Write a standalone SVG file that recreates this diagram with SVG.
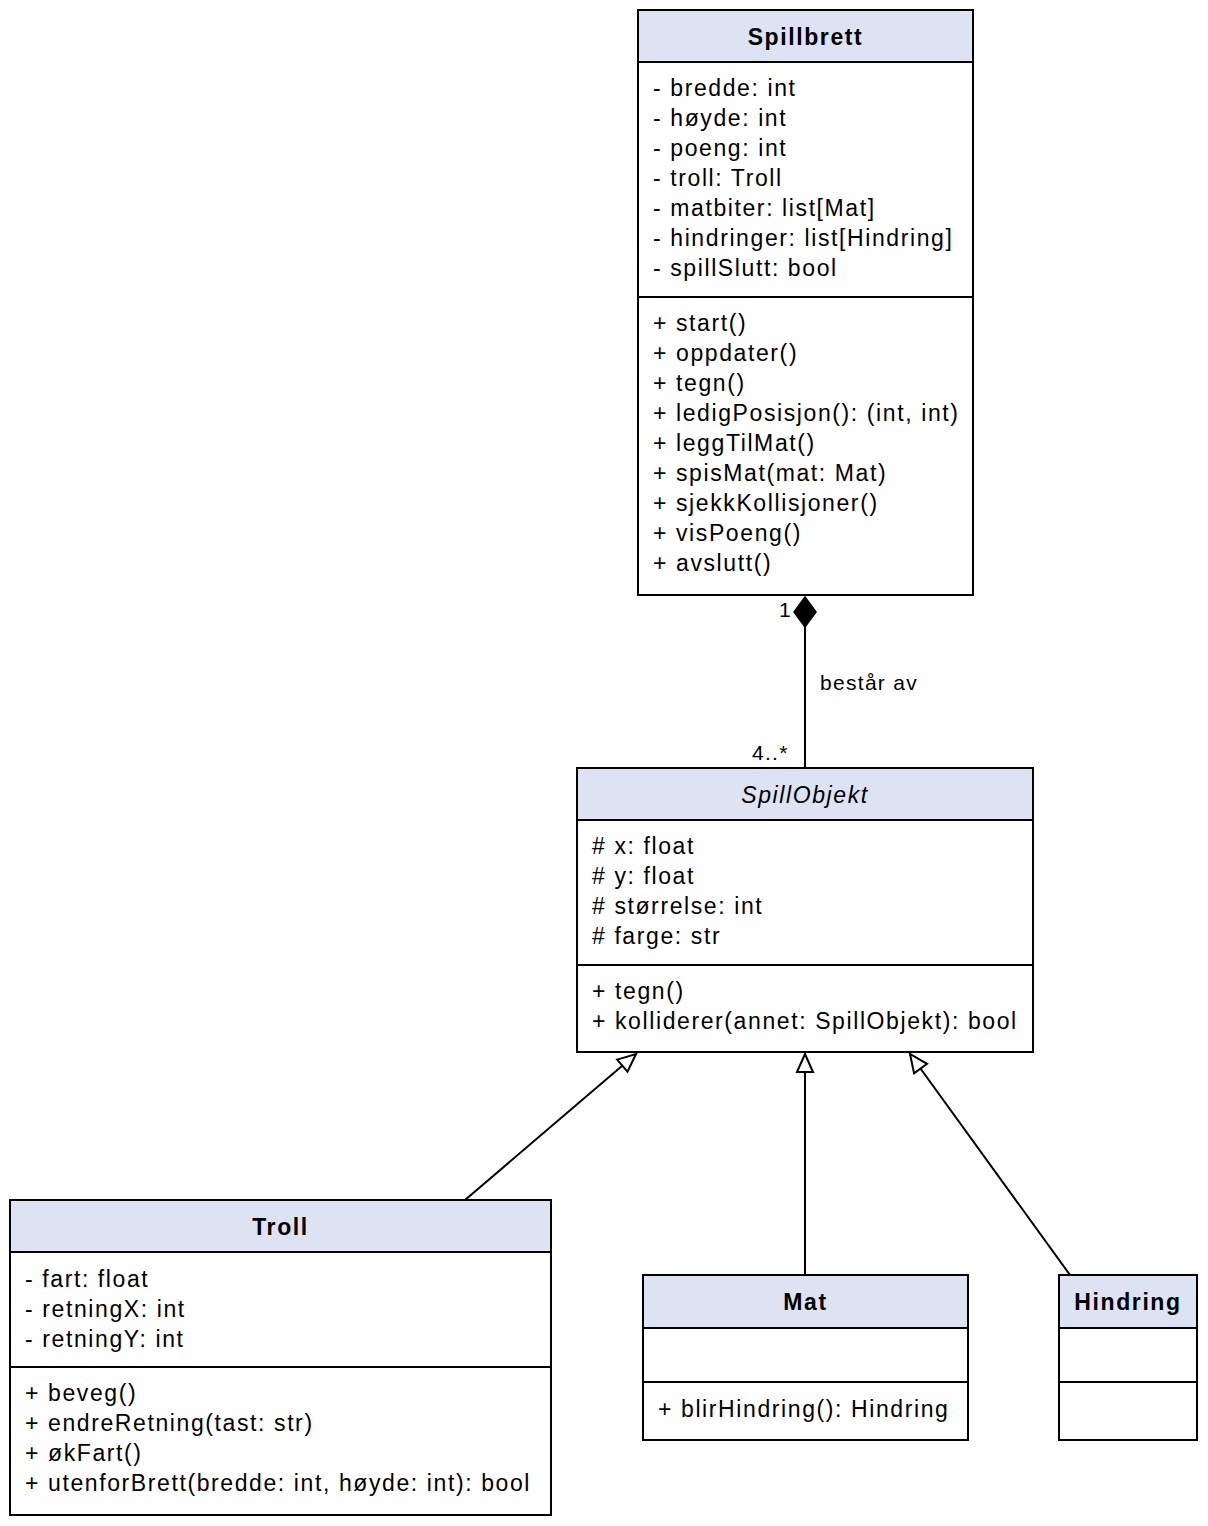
<svg xmlns="http://www.w3.org/2000/svg" width="1208" height="1526" viewBox="0 0 1208 1526">
<style>
text{font-family:"Liberation Sans",Arial,sans-serif;font-size:23px;letter-spacing:1.6px;fill:#000}
.t{font-weight:bold;text-anchor:middle}
.i{font-style:italic;text-anchor:middle;font-weight:normal}
.box{fill:#fff;stroke:#000;stroke-width:2}
.hd{fill:#dde3f2}
.ln{stroke:#000;stroke-width:2}
.c{stroke:#000;stroke-width:2;fill:none}
.s{font-size:21px;letter-spacing:1.3px}
</style>
<defs>
<marker id="tri" markerWidth="24" markerHeight="24" refX="20" refY="12" orient="auto" markerUnits="userSpaceOnUse">
<path d="M2,4 L20,12 L2,20 Z" fill="#fff" stroke="#000" stroke-width="2"/>
</marker>
</defs>
<rect width="1208" height="1526" fill="#fff"/>
<g id="connectors">
<line class="c" x1="805" y1="626" x2="805" y2="768"/>
<path d="M805,597 L816,612 L805,627 L794,612 Z" fill="#000" stroke="#000" stroke-width="1.5"/>
<text class="s" x="779" y="617">1</text>
<text class="s" x="752" y="760">4..*</text>
<text class="s" x="820" y="690">består av</text>
<line class="c" x1="465" y1="1200" x2="636" y2="1054" marker-end="url(#tri)"/>
<line class="c" x1="805" y1="1275" x2="805" y2="1054" marker-end="url(#tri)"/>
<line class="c" x1="1070" y1="1275" x2="910" y2="1054" marker-end="url(#tri)"/>
</g>
<g id="Spillbrett">
<rect class="box" x="638" y="10" width="335" height="585"/>
<rect class="hd" x="639" y="11" width="333" height="51"/>
<line class="ln" x1="638" y1="62" x2="973" y2="62"/>
<line class="ln" x1="638" y1="297" x2="973" y2="297"/>
<text class="t" x="805.5" y="45">Spillbrett</text>
<text x="653" y="96">- bredde: int</text>
<text x="653" y="126">- høyde: int</text>
<text x="653" y="156">- poeng: int</text>
<text x="653" y="186">- troll: Troll</text>
<text x="653" y="216">- matbiter: list[Mat]</text>
<text x="653" y="246">- hindringer: list[Hindring]</text>
<text x="653" y="276">- spillSlutt: bool</text>
<text x="653" y="331">+ start()</text>
<text x="653" y="361">+ oppdater()</text>
<text x="653" y="391">+ tegn()</text>
<text x="653" y="421">+ ledigPosisjon(): (int, int)</text>
<text x="653" y="451">+ leggTilMat()</text>
<text x="653" y="481">+ spisMat(mat: Mat)</text>
<text x="653" y="511">+ sjekkKollisjoner()</text>
<text x="653" y="541">+ visPoeng()</text>
<text x="653" y="571">+ avslutt()</text>
</g>
<g id="SpillObjekt">
<rect class="box" x="577" y="768" width="456" height="284"/>
<rect class="hd" x="578" y="769" width="454" height="51"/>
<line class="ln" x1="577" y1="820" x2="1033" y2="820"/>
<line class="ln" x1="577" y1="965" x2="1033" y2="965"/>
<text class="i" x="805" y="803">SpillObjekt</text>
<text x="592" y="854"># x: float</text>
<text x="592" y="884"># y: float</text>
<text x="592" y="914"># størrelse: int</text>
<text x="592" y="944"># farge: str</text>
<text x="592" y="999">+ tegn()</text>
<text x="592" y="1029">+ kolliderer(annet: SpillObjekt): bool</text>
</g>
<g id="Troll">
<rect class="box" x="10" y="1200" width="541" height="315"/>
<rect class="hd" x="11" y="1201" width="539" height="51"/>
<line class="ln" x1="10" y1="1252" x2="551" y2="1252"/>
<line class="ln" x1="10" y1="1367" x2="551" y2="1367"/>
<text class="t" x="280.5" y="1235">Troll</text>
<text x="25" y="1287">- fart: float</text>
<text x="25" y="1317">- retningX: int</text>
<text x="25" y="1347">- retningY: int</text>
<text x="25" y="1401">+ beveg()</text>
<text x="25" y="1431">+ endreRetning(tast: str)</text>
<text x="25" y="1461">+ økFart()</text>
<text x="25" y="1491">+ utenforBrett(bredde: int, høyde: int): bool</text>
</g>
<g id="Mat">
<rect class="box" x="643" y="1275" width="325" height="165"/>
<rect class="hd" x="644" y="1276" width="323" height="52"/>
<line class="ln" x1="643" y1="1328" x2="968" y2="1328"/>
<line class="ln" x1="643" y1="1382" x2="968" y2="1382"/>
<text class="t" x="805.5" y="1310">Mat</text>
<text x="658" y="1417">+ blirHindring(): Hindring</text>
</g>
<g id="Hindring">
<rect class="box" x="1059" y="1275" width="138" height="165"/>
<rect class="hd" x="1060" y="1276" width="136" height="52"/>
<line class="ln" x1="1059" y1="1328" x2="1197" y2="1328"/>
<line class="ln" x1="1059" y1="1382" x2="1197" y2="1382"/>
<text class="t" x="1128" y="1310">Hindring</text>
</g>
</svg>
